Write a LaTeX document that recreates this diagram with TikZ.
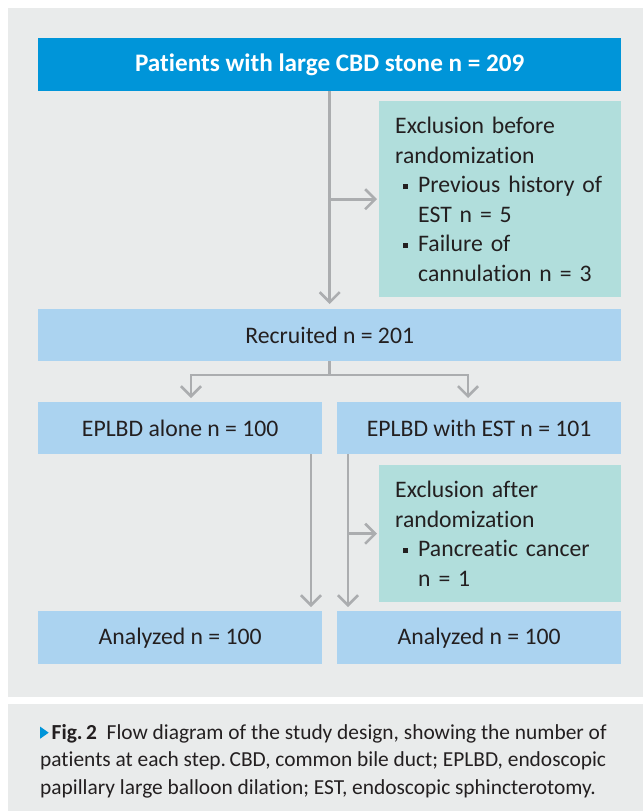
\documentclass[tikz,border=0pt]{standalone}
\usepackage{fontspec}
\setmainfont{Carlito}[Ligatures={NoCommon}]
\usetikzlibrary{arrows.meta,calc}
\definecolor{bggray}{HTML}{E9EBEB}
\definecolor{topblue}{HTML}{0095D9}
\definecolor{lightblue}{HTML}{ABD3F0}
\definecolor{tealbox}{HTML}{B1DEDC}
\definecolor{linegray}{HTML}{ABADAF}
\definecolor{txt}{HTML}{231F20}
\newcommand\mainsz{\fontsize{23.7}{29.5}\selectfont}
\newcommand\topsz{\fontsize{25.2}{30}\selectfont}
\newcommand\capsz{\fontsize{21.4}{27.5}\selectfont}
\newcommand\bul{\makebox[23pt][l]{\hspace{8pt}\rule[3.5pt]{5pt}{5pt}}}
\newcommand\ind{\hspace*{23pt}}
\newcommand\captri{\tikz[baseline=0pt]\fill[topblue] (0pt,0.5pt) -- (0pt,12.5pt) -- (8.5pt,6.5pt) -- cycle;}
\tikzset{
  box/.style={rectangle, inner sep=0pt, anchor=north west, text=txt, font=\mainsz},
  mainbox/.style={box, fill=lightblue},
  exclbox/.style={box, fill=tealbox, align=left, text width=210pt, inner xsep=16pt, inner ysep=0pt, minimum width=242pt},
  conn/.style={draw=linegray, line width=2.6pt},
  arr/.style={conn, -{Straight Barb[length=10pt,width=20pt]}}
}
\begin{document}
\begin{tikzpicture}[x=1pt,y=-1pt]
\useasboundingbox (0,0) rectangle (643,811);
\fill[bggray] (8,8) rectangle (643,697);
\fill[bggray] (8,704) rectangle (643,811);

\node[box, fill=topblue, minimum width=583pt, minimum height=53pt, text=white, font=\bfseries\topsz] (top) at (38,38) {Patients with large CBD stone n = 209};
\node[exclbox, minimum height=196pt] (excl1) at (379,101) {Exclusion before\\randomization\\\bul Previous history of\\\ind EST n = 5\\\bul Failure of\\\ind cannulation n = 3};
\node[mainbox, minimum width=583pt, minimum height=52pt] (rec) at (38,309) {Recruited n = 201};
\node[mainbox, minimum width=284pt, minimum height=52pt] (eL) at (38,402) {EPLBD alone n = 100};
\node[mainbox, minimum width=284pt, minimum height=52pt] (eR) at (337,402) {EPLBD with EST n = 101};
\node[exclbox, minimum height=137pt] (excl2) at (379,465) {Exclusion after\\randomization\\\bul Pancreatic cancer\\\ind n = 1};
\node[mainbox, minimum width=284pt, minimum height=53pt] (aL) at (38,611) {Analyzed n = 100};
\node[mainbox, minimum width=284pt, minimum height=53pt] (aR) at (337,611) {Analyzed n = 100};

\coordinate (jL) at (191,375);
\coordinate (jR) at (468,375);
\coordinate (vL) at (311,0);
\coordinate (vR) at (348,0);

\draw[arr, shorten >=5pt] (top.south) -- (rec.north);
\draw[arr, shorten >=2pt] (top.south |- excl1.west) -- (excl1.west);
\draw[arr, shorten >=4pt] (rec.south) -- (rec.south |- jL) -- (jL) -- (jL |- eL.north);
\draw[arr, shorten >=4pt] (rec.south |- jR) -- (jR) -- (jR |- eR.north);
\draw[arr, shorten >=4pt] (vL |- eL.south) -- (vL |- aL.north);
\draw[arr, shorten >=4pt] (vR |- eR.south) -- (vR |- aR.north);
\draw[arr, shorten >=2pt] (vR |- excl2.west) -- (excl2.west);

\node[anchor=west, align=left, inner sep=0pt, text=txt, font=\capsz] (cap) at (40,761) {\captri\hspace{3pt}\textbf{Fig.\,2}\hspace{0.45em}Flow diagram of the study design, showing the number of\\patients at each step.\,CBD, common bile duct; EPLBD, endoscopic\\papillary large balloon dilation; EST, endoscopic sphincterotomy.};
\end{tikzpicture}
\end{document}
